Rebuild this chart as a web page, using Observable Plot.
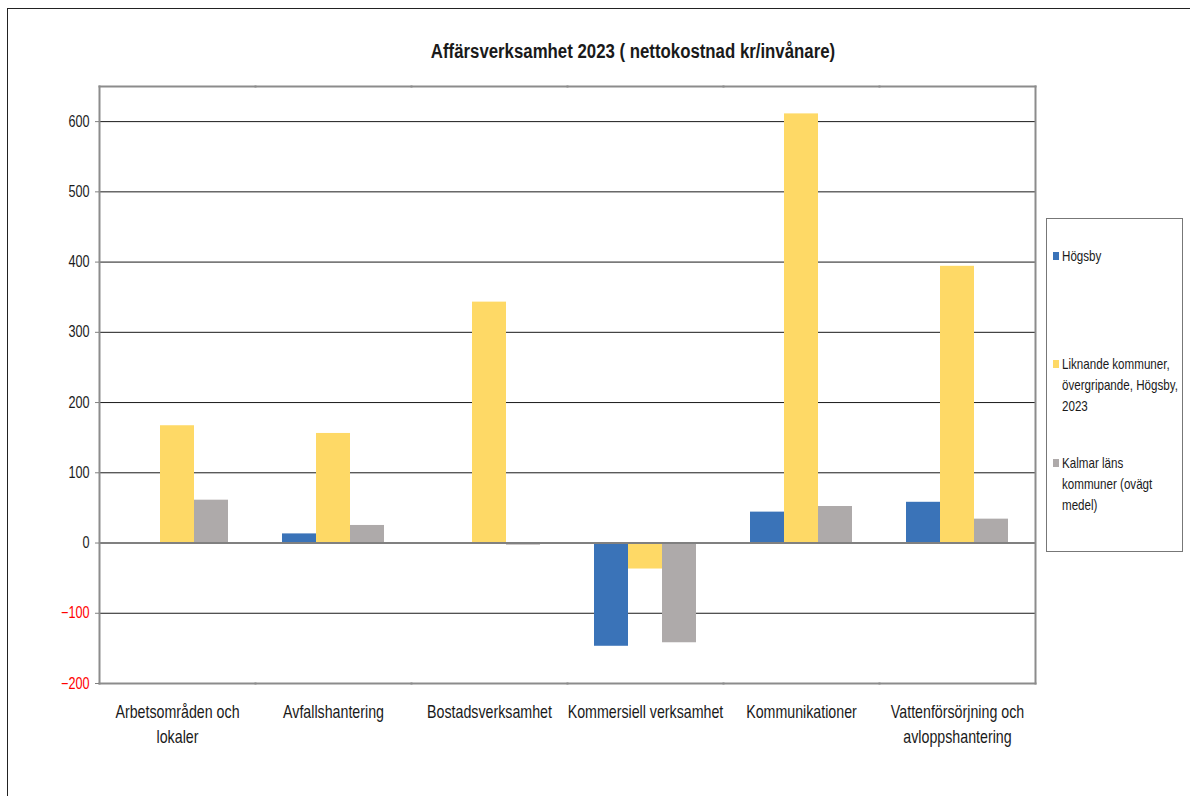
<!DOCTYPE html>
<html>
<head>
<meta charset="utf-8">
<script src="https://cdn.jsdelivr.net/npm/d3@7"></script>
<script src="https://cdn.jsdelivr.net/npm/@observablehq/plot@0.6"></script>
<style>
  body { margin: 0; background: #fff; }
  #wrap { position: relative; width: 1195px; height: 796px; overflow: hidden;
          font-family: "Liberation Sans", Arial, sans-serif; color: #1a1a1a; }
  #outer { position: absolute; left: 7px; top: 8px; width: 1183px; height: 800px;
           border-top: 1.5px solid #222; border-left: 1.5px solid #222; box-sizing: border-box; }
  #chart { position: absolute; left: 0; top: 0; }
  #title { position: absolute; left: 0; width: 1266px; top: 40px; text-align: center;
           font-weight: bold; font-size: 20px; transform: scaleX(0.84); transform-origin: 50% 50%; }
  #legend { position: absolute; left: 1046px; top: 218px; width: 137px; height: 334px;
            border: 1px solid #777; box-sizing: border-box; font-size: 14.5px; }
  .item { position: absolute; left: 6px; line-height: 21px; }
  .sw { position: absolute; left: 0; top: 6px; width: 6px; height: 8px; }
  .lbl { position: absolute; left: 9px; top: 0; white-space: pre; transform: scaleX(0.8); transform-origin: 0 0; }
</style>
</head>
<body>
<div id="wrap">
  <div id="outer"></div>
  <div id="chart"></div>
  <div id="title">Affärsverksamhet 2023 ( nettokostnad kr/invånare)</div>
  <div id="legend"></div>
</div>
<script>
const categories = [
  "Arbetsområden och lokaler",
  "Avfallshantering",
  "Bostadsverksamhet",
  "Kommersiell verksamhet",
  "Kommunikationer",
  "Vattenförsörjning och avloppshantering"
];
const categoryLabels = [
  "Arbetsområden och\nlokaler",
  "Avfallshantering",
  "Bostadsverksamhet",
  "Kommersiell verksamhet",
  "Kommunikationer",
  "Vattenförsörjning och\navloppshantering"
];
const series = [
  "Högsby",
  "Liknande kommuner, övergripande, Högsby, 2023",
  "Kalmar läns kommuner (ovägt medel)"
];
const legendLabels = [
  "Högsby",
  "Liknande kommuner,\növergripande, Högsby,\n2023",
  "Kalmar läns\nkommuner (ovägt\nmedel)"
];
const hogsby   = [0, 13, 0, -147, 44, 58];
const liknande = [167, 156, 343, -37, 611, 394];
const kalmar   = [61, 25, -3, -142, 52, 34];
const colors = ["#3A73B8", "#FED966", "#AEAAAA"];
const yTicksPositive = [0, 100, 200, 300, 400, 500, 600];
const yTicksNegative = [-100, -200];
const gridTicks = [-100, 100, 200, 300, 400, 500, 600];
const yDomain = [-200, 650];

const values = [hogsby, liknande, kalmar];
const data = [];
categories.forEach((c, i) => {
  series.forEach((s, j) => data.push({category: c, series: s, value: values[j][i]}));
});
const labelOf = new Map(categories.map((c, i) => [c, categoryLabels[i]]));

const font = '"Liberation Sans", Arial, sans-serif';

const chart = Plot.plot({
  width: 1195,
  height: 796,
  marginLeft: 97,
  marginRight: 158,
  marginTop: 86,
  marginBottom: 113,
  style: {fontFamily: font, fontSize: "16px", color: "#1a1a1a", background: "transparent"},
  fx: {domain: categories, padding: 0},
  x: {domain: series, paddingInner: 0, paddingOuter: 0.74, axis: null},
  y: {domain: yDomain},
  color: {domain: series, range: colors},
  marks: [
    Plot.gridY(gridTicks, {stroke: "#1a1a1a", strokeOpacity: 1, strokeWidth: 1}),
    Plot.barY(data, {fx: "category", x: "series", y: "value", fill: "series"}),
    Plot.ruleY([0], {stroke: "#808080", strokeWidth: 2}),
    Plot.frame({anchor: "top", stroke: "#8c8c8c", strokeWidth: 2}),
    Plot.frame({anchor: "bottom", stroke: "#8c8c8c", strokeWidth: 2}),
    Plot.frame({anchor: "left", facetAnchor: "left", stroke: "#8c8c8c", strokeWidth: 2}),
    Plot.frame({anchor: "right", facetAnchor: "right", stroke: "#8c8c8c", strokeWidth: 2}),
    Plot.axisY(yTicksPositive, {tickSize: 4, tickPadding: 6, label: null, fill: "#1a1a1a", stroke: "#808080", fontSize: 16}),
    Plot.axisY(yTicksNegative, {tickSize: 4, tickPadding: 6, label: null, fill: "#ff0000", stroke: "#808080", fontSize: 16}),
    Plot.axisFx({anchor: "bottom", tickSize: 0, tickPadding: 17, label: null,
                 tickFormat: d => labelOf.get(d), fontSize: 18, lineHeight: 1.39, fill: "#1a1a1a"})
  ]
});
document.getElementById("chart").appendChild(chart);

// condense SVG text horizontally (about each label's own anchor) to mimic the narrow typeface
const squeeze = 0.79;
chart.querySelectorAll("text").forEach(t => {
  const tr = t.getAttribute("transform");
  if (tr) {
    t.setAttribute("transform", tr + ` scale(${squeeze},1)`);
  } else {
    const tspans = t.querySelectorAll("tspan");
    const targets = tspans.length ? Array.from(tspans) : [t];
    targets.forEach(el => {
      const L = el.getComputedTextLength();
      if (L > 0) {
        el.setAttribute("textLength", (L * squeeze).toFixed(2));
        el.setAttribute("lengthAdjust", "spacingAndGlyphs");
      }
    });
  }
});

const color = chart.scale("color");
const legend = document.getElementById("legend");
const tops = [27, 135, 234];
series.forEach((s, i) => {
  const item = document.createElement("div");
  item.className = "item";
  item.style.top = tops[i] + "px";
  const sw = document.createElement("div");
  sw.className = "sw";
  sw.style.background = color.apply(s);
  const lbl = document.createElement("div");
  lbl.className = "lbl";
  lbl.textContent = legendLabels[i];
  item.appendChild(sw);
  item.appendChild(lbl);
  legend.appendChild(item);
});
</script>
</body>
</html>
